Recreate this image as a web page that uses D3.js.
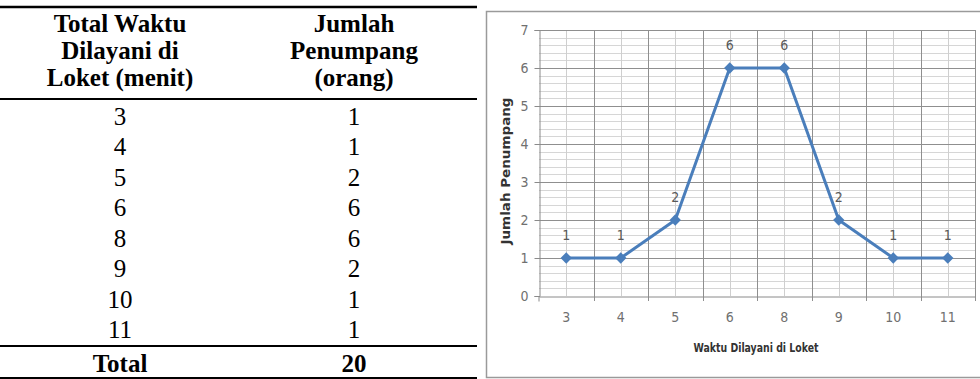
<!DOCTYPE html>
<html>
<head>
<meta charset="utf-8">
<script src="https://cdn.jsdelivr.net/npm/d3@7"></script>
<style>
  html, body { margin: 0; padding: 0; background: #fff; }
  svg { display: block; }
</style>
</head>
<body>
<svg id="chart" width="980" height="379"></svg>
<script>
// ---- data ----
const categories = ["3", "4", "5", "6", "8", "9", "10", "11"];
const values = [1, 1, 2, 6, 6, 2, 1, 1];
const yTicks = [0, 1, 2, 3, 4, 5, 6, 7];
const headerCol1 = ["Total Waktu", "Dilayani di", "Loket (menit)"];
const headerCol2 = ["Jumlah", "Penumpang", "(orang)"];
const totalLabel = "Total";
const xTitle = "Waktu Dilayani di Loket";
const yTitle = "Jumlah Penumpang";

(function () {
const svg = d3.select("#chart");

// ---- table (left) ----
const tbl = svg.append("g").attr("font-family", "'Liberation Serif', 'Times New Roman', serif")
  .attr("font-size", 25).attr("fill", "#000");
const col1 = 120, col2 = 354, tblW = 477;
const rule = (yy, w) => tbl.append("line").attr("x1", 0).attr("x2", tblW)
  .attr("y1", yy).attr("y2", yy).attr("stroke", "#000").attr("stroke-width", w);
rule(7, 2.5);
rule(99, 2);
rule(346, 2);
rule(378, 2);

const headerY = d3.scaleLinear().domain([0, 1]).range([32, 59]);
headerCol1.forEach((t, i) => tbl.append("text").attr("x", col1).attr("y", headerY(i))
  .attr("text-anchor", "middle").attr("font-weight", "bold").text(t));
headerCol2.forEach((t, i) => tbl.append("text").attr("x", col2).attr("y", headerY(i))
  .attr("text-anchor", "middle").attr("font-weight", "bold").text(t));

const rowY = d3.scaleLinear().domain([0, 7]).range([125, 338]);
categories.forEach((c, i) => {
  tbl.append("text").attr("x", col1).attr("y", rowY(i)).attr("text-anchor", "middle").text(c);
  tbl.append("text").attr("x", col2).attr("y", rowY(i)).attr("text-anchor", "middle").text(values[i]);
});
tbl.append("text").attr("x", col1).attr("y", 372).attr("text-anchor", "middle")
  .attr("font-weight", "bold").text(totalLabel);
tbl.append("text").attr("x", col2).attr("y", 372).attr("text-anchor", "middle")
  .attr("font-weight", "bold").text(d3.sum(values));

// ---- chart (right) ----
svg.append("rect").attr("x", 486.5).attr("y", 11.5).attr("width", 520).attr("height", 366)
  .attr("fill", "#fff").attr("stroke", "#9a9a9a").attr("stroke-width", 1.5);

const pLeft = 539, pRight = 975, pTop = 30, pBottom = 296;
const x = d3.scaleBand().domain(categories).range([pLeft, pRight]);
const y = d3.scaleLinear().domain([0, 7]).range([pBottom, pTop]);

const g = svg.append("g");
const sans = "'DejaVu Sans Condensed', 'Liberation Sans', sans-serif";

// minor horizontal gridlines
const minorY = d3.range(0, 7, 0.2).filter(v => Math.abs(v - Math.round(v)) > 1e-6);
g.selectAll(".hminor").data(minorY).join("line")
  .attr("x1", pLeft).attr("x2", pRight)
  .attr("y1", d => Math.round(y(d)) + 0.5).attr("y2", d => Math.round(y(d)) + 0.5)
  .attr("stroke", "#d6d6d6").attr("stroke-width", 1);
// minor vertical gridlines at category centers
g.selectAll(".vminor").data(categories).join("line")
  .attr("x1", d => Math.round(x(d) + x.bandwidth() / 2) + 0.5)
  .attr("x2", d => Math.round(x(d) + x.bandwidth() / 2) + 0.5)
  .attr("y1", pTop).attr("y2", pBottom)
  .attr("stroke", "#cfcfcf").attr("stroke-width", 1);
// major horizontal gridlines
g.selectAll(".hmajor").data(yTicks.filter(d => d > 0)).join("line")
  .attr("x1", pLeft).attr("x2", pRight)
  .attr("y1", d => Math.round(y(d)) + 0.5).attr("y2", d => Math.round(y(d)) + 0.5)
  .attr("stroke", "#8f8f8f").attr("stroke-width", 1);
// major vertical gridlines at band boundaries
const bounds = categories.slice(1).map(c => x(c)).concat([pRight]);
g.selectAll(".vmajor").data(bounds).join("line")
  .attr("x1", d => Math.round(d) + 0.5).attr("x2", d => Math.round(d) + 0.5)
  .attr("y1", pTop).attr("y2", pBottom + 5)
  .attr("stroke", "#8f8f8f").attr("stroke-width", 1);

// axes
const yAxis = g.append("g").attr("transform", `translate(${pLeft + 0.5},0)`)
  .call(d3.axisLeft(y).tickValues(yTicks).tickFormat(d3.format("d")).tickSize(5).tickPadding(6));
const xAxis = g.append("g").attr("transform", `translate(0,${Math.round(pBottom) + 0.5})`)
  .call(d3.axisBottom(x).tickSize(0).tickPadding(16));
[yAxis, xAxis].forEach(a => {
  a.attr("font-size", 14).attr("font-family", sans);
  a.select(".domain").attr("stroke", "#8a8a8a");
  a.selectAll(".tick line").attr("stroke", "#8a8a8a");
  a.selectAll("text").attr("fill", "#707070").style("font-size", "14px");
});
xAxis.append("line").attr("x1", pLeft).attr("x2", pLeft).attr("y1", 0).attr("y2", 5).attr("stroke", "#8a8a8a");

// line
const cx = c => x(c) + x.bandwidth() / 2;
const blue = "#4a7ebb";
g.append("path").datum(categories.map((c, i) => [cx(c), y(values[i])]))
  .attr("d", d3.line()).attr("fill", "none").attr("stroke", blue).attr("stroke-width", 3)
  .attr("stroke-linejoin", "round");
// markers
g.selectAll(".mk").data(categories).join("path")
  .attr("d", d3.symbol(d3.symbolSquare, 64))
  .attr("transform", (d, i) => `translate(${cx(d)},${y(values[i])}) rotate(45)`)
  .attr("fill", blue);
// data labels
g.selectAll(".lbl").data(categories).join("text")
  .attr("x", d => cx(d)).attr("y", (d, i) => y(values[i]) - 18)
  .attr("text-anchor", "middle").style("font-size", "14px").attr("fill", "#5a5a5a")
  .attr("font-family", sans)
  .text((d, i) => values[i]);

// axis titles
g.append("text").attr("x", 756).attr("y", 352)
  .attr("text-anchor", "middle").attr("font-weight", "bold").style("font-size", "13px")
  .attr("textLength", 125).attr("lengthAdjust", "spacingAndGlyphs")
  .attr("fill", "#333").attr("font-family", sans)
  .text(xTitle);
g.append("text").attr("transform", `translate(510,171) rotate(-90)`)
  .attr("text-anchor", "middle").attr("font-weight", "bold").style("font-size", "13px")
  .attr("textLength", 147).attr("lengthAdjust", "spacingAndGlyphs")
  .attr("fill", "#333").attr("font-family", sans)
  .text(yTitle);
})();
</script>
</body>
</html>
